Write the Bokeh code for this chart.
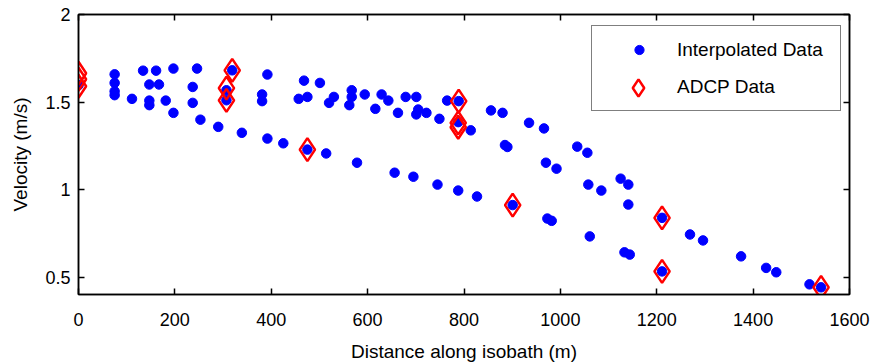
from bokeh.plotting import figure
from bokeh.models import (LinearAxis, FixedTicker, NumeralTickFormatter, CustomJSTickFormatter,
                          Range1d, Legend, LegendItem)
from bokeh.embed import file_html
from bokeh.resources import INLINE

# Interpolated data (distance along isobath in m, velocity in m/s)
interp_x = [0, 75, 75, 75, 75, 111, 134, 147, 147, 147, 161, 167, 181, 197, 197, 237, 237, 246, 253,
            290, 307, 307, 319, 339, 381, 381, 392, 392, 425, 457, 468, 475, 475, 501, 514, 520, 530,
            562, 567, 567, 578, 594, 616, 629, 643, 656, 663, 679, 695, 701, 701, 705, 722, 745, 749,
            765, 788, 789, 788, 814, 827, 856, 880, 885, 890, 901, 935, 966, 970, 973, 982, 992, 1035,
            1056, 1058, 1061, 1085, 1125, 1133, 1141, 1141, 1144, 1211, 1211, 1269, 1296, 1375, 1427,
            1448, 1517, 1541]
interp_y = [1.596, 1.658, 1.609, 1.561, 1.539, 1.518, 1.679, 1.600, 1.508, 1.482, 1.679, 1.600, 1.508,
            1.691, 1.438, 1.586, 1.495, 1.691, 1.399, 1.358, 1.567, 1.510, 1.681, 1.324, 1.543, 1.505,
            1.657, 1.291, 1.264, 1.518, 1.622, 1.529, 1.228, 1.609, 1.206, 1.495, 1.529, 1.482, 1.567,
            1.529, 1.153, 1.543, 1.461, 1.543, 1.508, 1.096, 1.438, 1.529, 1.073, 1.529, 1.429, 1.457,
            1.438, 1.028, 1.404, 1.508, 0.994, 1.505, 1.385, 1.338, 0.960, 1.452, 1.438, 1.254, 1.243,
            0.911, 1.381, 1.349, 1.153, 0.834, 0.821, 1.119, 1.245, 1.210, 1.028, 0.732, 0.994, 1.062,
            0.641, 1.028, 0.914, 0.628, 0.838, 0.532, 0.743, 0.709, 0.618, 0.552, 0.527, 0.458, 0.441]

# ADCP data
adcp_x = [0, 0, 0, 307, 307, 319, 475, 788, 788, 789, 901, 1211, 1211, 1541]
adcp_y = [1.664, 1.630, 1.590, 1.579, 1.509, 1.681, 1.228, 1.381, 1.356, 1.505, 0.911, 0.838, 0.532, 0.441]

x_ticks = [0, 200, 400, 600, 800, 1000, 1200, 1400, 1600]
y_ticks = [0.5, 1, 1.5, 2]

FONT = "Liberation Sans"

p = figure(width=872, height=364, output_backend="svg", toolbar_location=None,
           x_range=Range1d(0, 1600), y_range=Range1d(0.4, 2),
           min_border_left=78, min_border_right=23, min_border_top=14, min_border_bottom=70,
           x_axis_label="Distance along isobath (m)", y_axis_label="Velocity (m/s)")
p.xgrid.visible = False
p.ygrid.visible = False
p.outline_line_color = "black"
p.outline_line_width = 1.5
p.background_fill_color = "white"
p.border_fill_color = "white"

bottom_ax = p.below[0]
left_ax = p.left[0]
bottom_ax.ticker = FixedTicker(ticks=x_ticks)
left_ax.ticker = FixedTicker(ticks=y_ticks)
left_ax.formatter = NumeralTickFormatter(format="0.[0]")

blank = CustomJSTickFormatter(code="return ''")
top_ax = LinearAxis(ticker=FixedTicker(ticks=x_ticks), formatter=blank, major_label_standoff=0)
right_ax = LinearAxis(ticker=FixedTicker(ticks=y_ticks), formatter=blank, major_label_standoff=0)
p.add_layout(top_ax, "above")
p.add_layout(right_ax, "right")

for ax in [bottom_ax, left_ax, top_ax, right_ax]:
    ax.major_tick_in = 6
    ax.major_tick_out = 0
    ax.minor_tick_in = 0
    ax.minor_tick_out = 0
    ax.axis_line_color = "black"
    ax.axis_line_width = 1.5
    ax.major_tick_line_width = 1.5
    ax.major_label_text_font = FONT
    ax.major_label_text_color = "black"
    ax.axis_label_text_font = FONT
    ax.axis_label_text_font_style = "normal"
    ax.axis_label_text_color = "black"

for ax in [bottom_ax, left_ax]:
    ax.major_label_text_font_size = "18px"
    ax.axis_label_text_font_size = "19px"
bottom_ax.major_label_standoff = 18
bottom_ax.axis_label_standoff = 12
left_ax.major_label_standoff = 8
left_ax.axis_label_standoff = 11

r_interp = p.scatter(interp_x, interp_y, marker="circle", size=9.5,
                     fill_color="#0000ff", line_color="#0000ff")
r_adcp = p.scatter(adcp_x, adcp_y, marker="diamond", size=23,
                   fill_color=None, line_color="#ff0000", line_width=2.5)
# invisible stand-in so the boxed legend can hold the ADCP label
r_proxy = p.scatter(adcp_x[:1], adcp_y[:1], marker="diamond", size=1,
                    fill_alpha=0, line_alpha=0)

legend = Legend(items=[LegendItem(label="Interpolated Data", renderers=[r_interp]),
                       LegendItem(label="ADCP Data", renderers=[r_proxy])],
                location=(513, 183), padding=12, spacing=14,
                glyph_width=70, glyph_height=23, label_height=23, label_standoff=3, label_width=151,
                label_text_font=FONT, label_text_font_size="19px", label_text_color="black",
                border_line_color="black", border_line_width=1.5,
                background_fill_color="white", background_fill_alpha=1.0)
p.add_layout(legend, "center")

# larger diamond symbol for the ADCP legend entry
legend_b = Legend(items=[LegendItem(label=" ", renderers=[r_adcp])],
                  location=(525, 185), padding=0, spacing=0,
                  glyph_width=70, glyph_height=43, label_height=10, label_standoff=0, label_width=0,
                  label_text_font_size="10px",
                  border_line_color=None, background_fill_alpha=0)
p.add_layout(legend_b, "center")

open("out.html", "w").write(file_html(p, INLINE))
